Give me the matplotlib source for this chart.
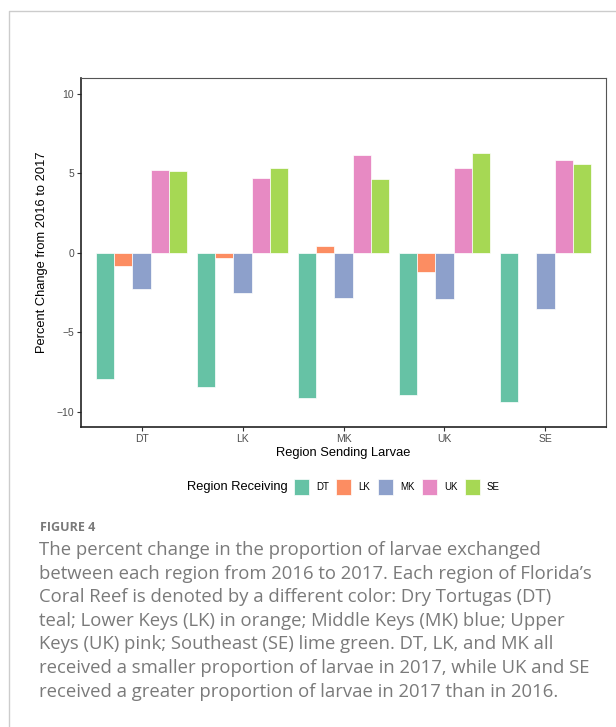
import numpy as np
import matplotlib.pyplot as plt
from matplotlib.patches import Rectangle

# Data: percent change 2016 -> 2017, one list per receiving region
senders = ['DT', 'LK', 'MK', 'UK', 'SE']
receivers = ['DT', 'LK', 'MK', 'UK', 'SE']
recv_dt = [-7.91, -8.41, -9.12, -8.95, -9.37]
recv_lk = [-0.86, -0.33, 0.46, -1.23, -0.04]
recv_mk = [-2.26, -2.51, -2.85, -2.89, -3.52]
recv_uk = [5.23, 4.71, 6.13, 5.36, 5.84]
recv_se = [5.13, 5.36, 4.67, 6.28, 5.61]
series = [recv_dt, recv_lk, recv_mk, recv_uk, recv_se]
colors = ['#66C2A5', '#FC8D62', '#8DA0CB', '#E78AC3', '#A6D854']

caption_lines = [
    "The percent change in the proportion of larvae exchanged",
    "between each region from 2016 to 2017. Each region of Florida\u2019s",
    "Coral Reef is denoted by a different color: Dry Tortugas (DT)",
    "teal; Lower Keys (LK) in orange; Middle Keys (MK) blue; Upper",
    "Keys (UK) pink; Southeast (SE) lime green. DT, LK, and MK all",
    "received a smaller proportion of larvae in 2017, while UK and SE",
    "received a greater proportion of larvae in 2017 than in 2016.",
]

W, H = 616, 727
plt.rcParams['font.family'] = ['Liberation Sans', 'DejaVu Sans']
fig = plt.figure(figsize=(W / 100, H / 100), dpi=100)

def fx(px):
    return px / W

def fy(py):
    return 1 - py / H

ax = fig.add_axes([fx(81), fy(427), fx(606) - fx(81), fy(78) - fy(427)])

x = np.arange(1, len(senders) + 1)
bw = 0.9 / len(receivers)
for i, (vals, c) in enumerate(zip(series, colors)):
    ax.bar(x - 0.45 + bw * (i + 0.5), vals, width=bw, color=c,
           edgecolor='white', linewidth=0.5, label=receivers[i])

ax.set_xlim(0.4, 5.6)
ax.set_ylim(-10.95, 10.99)
ax.set_xticks(x)
ax.set_xticklabels(senders)
ax.set_yticks([-10, -5, 0, 5, 10])
ax.tick_params(length=3, width=0.8, color='#333333', labelcolor='#4D4D4D',
               labelsize=7.5, pad=2)
for s in ['left', 'bottom']:
    ax.spines[s].set_color('#222222')
    ax.spines[s].set_linewidth(1.2)
for s in ['top', 'right']:
    ax.spines[s].set_color('#555555')
    ax.spines[s].set_linewidth(0.8)

ax.set_xlabel('Region Sending Larvae', fontsize=9.3, labelpad=2)
ax.set_ylabel('Percent Change from 2016 to 2017', fontsize=9.3, labelpad=6)

# legend drawn by hand, horizontal with title on the left
fig.text(fx(187), fy(487), 'Region Receiving', fontsize=9.3, va='center', ha='left')
box_left = [294, 336, 378, 422, 465]
for bx, lab, c in zip(box_left, receivers, colors):
    fig.add_artist(Rectangle((fx(bx), fy(495)), fx(15), 16 / H,
                             transform=fig.transFigure, facecolor=c,
                             edgecolor='white', linewidth=0.5))
    fig.text(fx(bx + 22), fy(487), lab, fontsize=7, va='center', ha='left')

# outer frame lines
fig.add_artist(plt.Line2D([fx(9), fx(9), 1], [0, fy(11), fy(11)],
                          transform=fig.transFigure, color='#CCCCCC', lw=1))

# caption
cap_color = '#7A7A7A'
cap_font = ['Open Sans', 'DejaVu Sans']
fig.text(fx(40), fy(531), 'FIGURE 4', fontsize=9, fontweight='bold',
         color=cap_color, va='baseline', family=cap_font)

renderer = fig.canvas.get_renderer()
probe = fig.text(0, 0, caption_lines[1], fontsize=12, family=cap_font)
wpx = probe.get_window_extent(renderer).width
probe.remove()
cap_fs = 12 * 552 / wpx
base = 555
for k, line in enumerate(caption_lines):
    fig.text(fx(39), fy(base + 23.6 * k), line, fontsize=cap_fs, color=cap_color,
             va='baseline', ha='left', family=cap_font)

fig.savefig('out.png', dpi=100, facecolor='white')
